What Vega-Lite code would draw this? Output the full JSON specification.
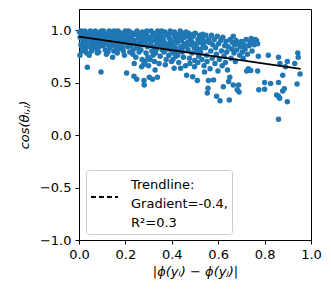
{
  "$schema": "https://vega.github.io/schema/vega-lite/v6.json",
  "width": 232,
  "height": 231,
  "autosize": {"type": "none"},
  "padding": {"left": 79, "top": 9, "right": 20, "bottom": 59},
  "background": "white",
  "config": {
    "view": {"stroke": "black", "strokeWidth": 1},
    "font": "DejaVu Sans",
    "axis": {"labelFont": "DejaVu Sans", "labelFontSize": 13, "labelColor": "black", "labelFlush": false, "titleFont": "DejaVu Sans", "titleFontSize": 13, "titleFontWeight": "normal", "titleColor": "black", "domainColor": "black", "tickColor": "black", "tickSize": 4, "labelPadding": 4, "grid": false},
    "legend": {"labelFont": "DejaVu Sans", "labelFontSize": 13, "labelColor": "black"},
    "style": {"guide-label": {"lineHeight": 19}}
  },
  "datasets": {
    "pts": [
{"x":0.002,"y":0.98},{"x":0.005,"y":0.93},{"x":0.008,"y":0.86},{"x":0.011,"y":0.96},{"x":0.014,"y":0.80},{"x":0.017,"y":0.90},{"x":0.004,"y":0.76},{"x":0.009,"y":0.99},{"x":0.013,"y":0.84},{"x":0.019,"y":0.94},
{"x":0.021,"y":0.97},{"x":0.024,"y":0.88},{"x":0.027,"y":0.82},{"x":0.03,"y":0.95},{"x":0.033,"y":0.78},{"x":0.036,"y":0.645},{"x":0.038,"y":0.91},{"x":0.025,"y":0.99},{"x":0.032,"y":0.86},{"x":0.039,"y":0.97},
{"x":0.042,"y":0.93},{"x":0.045,"y":0.84},{"x":0.048,"y":0.99},{"x":0.051,"y":0.89},{"x":0.054,"y":0.80},{"x":0.057,"y":0.96},{"x":0.044,"y":0.76},{"x":0.05,"y":0.92},{"x":0.055,"y":0.87},{"x":0.059,"y":0.98},
{"x":0.061,"y":0.95},{"x":0.064,"y":0.83},{"x":0.067,"y":0.90},{"x":0.07,"y":0.99},{"x":0.073,"y":0.86},{"x":0.076,"y":0.93},{"x":0.079,"y":0.78},{"x":0.066,"y":0.97},{"x":0.072,"y":0.88},{"x":0.078,"y":0.81},
{"x":0.081,"y":0.96},{"x":0.084,"y":0.91},{"x":0.087,"y":0.84},{"x":0.09,"y":0.98},{"x":0.095,"y":0.6},{"x":0.096,"y":0.89},{"x":0.099,"y":0.94},{"x":0.085,"y":0.79},{"x":0.091,"y":0.87},{"x":0.097,"y":0.99},
{"x":0.101,"y":0.92},{"x":0.104,"y":0.85},{"x":0.107,"y":0.97},{"x":0.11,"y":0.88},{"x":0.113,"y":0.81},{"x":0.116,"y":0.95},{"x":0.119,"y":0.90},{"x":0.106,"y":0.99},{"x":0.112,"y":0.93},{"x":0.118,"y":0.77},
{"x":0.121,"y":0.96},{"x":0.124,"y":0.86},{"x":0.127,"y":0.91},{"x":0.13,"y":0.99},{"x":0.133,"y":0.83},{"x":0.136,"y":0.94},{"x":0.139,"y":0.88},{"x":0.125,"y":0.79},{"x":0.131,"y":0.97},{"x":0.138,"y":0.85},
{"x":0.141,"y":0.92},{"x":0.144,"y":0.98},{"x":0.147,"y":0.87},{"x":0.15,"y":0.80},{"x":0.153,"y":0.95},{"x":0.156,"y":0.90},{"x":0.159,"y":0.84},{"x":0.145,"y":0.74},{"x":0.151,"y":0.99},{"x":0.158,"y":0.96},
{"x":0.161,"y":0.88},{"x":0.164,"y":0.93},{"x":0.167,"y":0.99},{"x":0.17,"y":0.82},{"x":0.173,"y":0.96},{"x":0.176,"y":0.86},{"x":0.179,"y":0.91},{"x":0.165,"y":0.78},{"x":0.172,"y":0.98},{"x":0.178,"y":0.94},
{"x":0.181,"y":0.97},{"x":0.184,"y":0.89},{"x":0.187,"y":0.83},{"x":0.19,"y":0.95},{"x":0.193,"y":0.92},{"x":0.196,"y":0.76},{"x":0.199,"y":0.99},{"x":0.185,"y":0.86},{"x":0.191,"y":0.80},{"x":0.198,"y":0.93},
{"x":0.201,"y":0.96},{"x":0.204,"y":0.88},{"x":0.205,"y":0.59},{"x":0.207,"y":0.94},{"x":0.21,"y":0.84},{"x":0.213,"y":0.99},{"x":0.216,"y":0.90},{"x":0.219,"y":0.79},{"x":0.206,"y":0.97},{"x":0.212,"y":0.86},{"x":0.218,"y":0.92},
{"x":0.221,"y":0.98},{"x":0.224,"y":0.85},{"x":0.227,"y":0.91},{"x":0.23,"y":0.95},{"x":0.233,"y":0.81},{"x":0.236,"y":0.88},{"x":0.237,"y":0.56},{"x":0.239,"y":0.97},{"x":0.225,"y":0.93},{"x":0.232,"y":0.77},{"x":0.238,"y":0.68},
{"x":0.241,"y":0.90},{"x":0.244,"y":0.96},{"x":0.247,"y":0.83},{"x":0.249,"y":0.53},{"x":0.25,"y":0.99},{"x":0.253,"y":0.87},{"x":0.256,"y":0.93},{"x":0.259,"y":0.79},{"x":0.245,"y":0.74},{"x":0.252,"y":0.97},{"x":0.258,"y":0.85},
{"x":0.261,"y":0.94},{"x":0.264,"y":0.89},{"x":0.267,"y":0.81},{"x":0.27,"y":0.65},{"x":0.273,"y":0.98},{"x":0.276,"y":0.86},{"x":0.279,"y":0.92},{"x":0.265,"y":0.96},{"x":0.272,"y":0.72},{"x":0.278,"y":0.67},{"x":0.28,"y":0.52},{"x":0.281,"y":0.476},
{"x":0.283,"y":0.95},{"x":0.286,"y":0.88},{"x":0.289,"y":0.78},{"x":0.292,"y":0.99},{"x":0.295,"y":0.84},{"x":0.298,"y":0.91},{"x":0.285,"y":0.70},{"x":0.291,"y":0.97},{"x":0.297,"y":0.74},{"x":0.3,"y":0.66},
{"x":0.303,"y":0.55},{"x":0.305,"y":0.93},{"x":0.308,"y":0.86},{"x":0.311,"y":0.99},{"x":0.314,"y":0.80},{"x":0.317,"y":0.53},{"x":0.318,"y":0.95},{"x":0.306,"y":0.72},{"x":0.312,"y":0.89},{"x":0.319,"y":0.76},
{"x":0.321,"y":0.97},{"x":0.324,"y":0.84},{"x":0.327,"y":0.91},{"x":0.328,"y":0.62},{"x":0.33,"y":0.78},{"x":0.333,"y":0.94},{"x":0.336,"y":0.88},{"x":0.338,"y":0.55},{"x":0.339,"y":0.99},{"x":0.325,"y":0.70},{"x":0.335,"y":0.82},
{"x":0.341,"y":0.92},{"x":0.344,"y":0.86},{"x":0.347,"y":0.97},{"x":0.35,"y":0.75},{"x":0.353,"y":0.90},{"x":0.356,"y":0.99},{"x":0.359,"y":0.81},{"x":0.345,"y":0.68},{"x":0.352,"y":0.95},{"x":0.358,"y":0.84},
{"x":0.361,"y":0.93},{"x":0.364,"y":0.88},{"x":0.367,"y":0.79},{"x":0.37,"y":0.98},{"x":0.373,"y":0.85},{"x":0.376,"y":0.72},{"x":0.379,"y":0.95},{"x":0.365,"y":0.90},{"x":0.372,"y":0.67},{"x":0.378,"y":0.82},
{"x":0.381,"y":0.96},{"x":0.384,"y":0.87},{"x":0.387,"y":0.76},{"x":0.39,"y":0.92},{"x":0.393,"y":0.99},{"x":0.396,"y":0.81},{"x":0.399,"y":0.70},{"x":0.385,"y":0.94},{"x":0.392,"y":0.84},{"x":0.398,"y":0.89},
{"x":0.401,"y":0.97},{"x":0.404,"y":0.86},{"x":0.407,"y":0.78},{"x":0.41,"y":0.635},{"x":0.413,"y":0.93},{"x":0.416,"y":0.83},{"x":0.419,"y":0.90},{"x":0.405,"y":0.72},{"x":0.411,"y":0.98},{"x":0.418,"y":0.75},
{"x":0.421,"y":0.95},{"x":0.424,"y":0.88},{"x":0.427,"y":0.80},{"x":0.43,"y":0.69},{"x":0.433,"y":0.92},{"x":0.436,"y":0.99},{"x":0.439,"y":0.84},{"x":0.425,"y":0.76},{"x":0.432,"y":0.96},{"x":0.438,"y":0.635},
{"x":0.441,"y":0.90},{"x":0.444,"y":0.82},{"x":0.447,"y":0.97},{"x":0.45,"y":0.74},{"x":0.453,"y":0.87},{"x":0.456,"y":0.93},{"x":0.459,"y":0.66},{"x":0.445,"y":0.79},{"x":0.452,"y":0.95},{"x":0.458,"y":0.85},
{"x":0.461,"y":0.98},{"x":0.464,"y":0.57},{"x":0.467,"y":0.88},{"x":0.47,"y":0.81},{"x":0.473,"y":0.94},{"x":0.476,"y":0.73},{"x":0.479,"y":0.90},{"x":0.465,"y":0.84},{"x":0.472,"y":0.97},{"x":0.478,"y":0.68},
{"x":0.481,"y":0.92},{"x":0.484,"y":0.86},{"x":0.487,"y":0.78},{"x":0.49,"y":0.555},{"x":0.493,"y":0.96},{"x":0.496,"y":0.83},{"x":0.499,"y":0.71},{"x":0.485,"y":0.89},{"x":0.492,"y":0.94},{"x":0.498,"y":0.65},
{"x":0.501,"y":0.97},{"x":0.504,"y":0.87},{"x":0.507,"y":0.80},{"x":0.51,"y":0.52},{"x":0.513,"y":0.91},{"x":0.516,"y":0.75},{"x":0.519,"y":0.93},{"x":0.505,"y":0.84},{"x":0.512,"y":0.69},{"x":0.518,"y":0.88},
{"x":0.521,"y":0.95},{"x":0.524,"y":0.82},{"x":0.527,"y":0.90},{"x":0.53,"y":0.72},{"x":0.533,"y":0.96},{"x":0.536,"y":0.86},{"x":0.539,"y":0.66},{"x":0.525,"y":0.78},{"x":0.532,"y":0.92},{"x":0.538,"y":0.84},
{"x":0.541,"y":0.6},{"x":0.544,"y":0.89},{"x":0.547,"y":0.95},{"x":0.55,"y":0.76},{"x":0.553,"y":0.40},{"x":0.556,"y":0.445},{"x":0.558,"y":0.52},{"x":0.545,"y":0.83},{"x":0.552,"y":0.70},{"x":0.559,"y":0.91},
{"x":0.562,"y":0.88},{"x":0.565,"y":0.63},{"x":0.568,"y":0.80},{"x":0.571,"y":0.95},{"x":0.574,"y":0.73},{"x":0.577,"y":0.86},{"x":0.58,"y":0.525},{"x":0.583,"y":0.91},{"x":0.586,"y":0.68},{"x":0.589,"y":0.83},
{"x":0.592,"y":0.77},{"x":0.593,"y":0.37},{"x":0.596,"y":0.94},{"x":0.599,"y":0.61},{"x":0.602,"y":0.87},{"x":0.605,"y":0.72},{"x":0.608,"y":0.327},{"x":0.611,"y":0.90},{"x":0.614,"y":0.80},{"x":0.617,"y":0.66},
{"x":0.62,"y":0.93},{"x":0.622,"y":0.46},{"x":0.625,"y":0.75},{"x":0.628,"y":0.85},{"x":0.631,"y":0.69},{"x":0.634,"y":0.89},{"x":0.637,"y":0.79},{"x":0.64,"y":0.62},{"x":0.643,"y":0.84},{"x":0.645,"y":0.51},
{"x":0.648,"y":0.333},{"x":0.65,"y":0.55},{"x":0.652,"y":0.91},{"x":0.655,"y":0.73},{"x":0.658,"y":0.82},{"x":0.661,"y":0.88},{"x":0.665,"y":0.94},{"x":0.665,"y":0.476},{"x":0.668,"y":0.78},{"x":0.671,"y":0.86},
{"x":0.674,"y":0.70},{"x":0.677,"y":0.90},{"x":0.68,"y":0.81},{"x":0.682,"y":0.43},{"x":0.685,"y":0.87},{"x":0.688,"y":0.476},{"x":0.69,"y":0.41},{"x":0.693,"y":0.76},{"x":0.696,"y":0.84},{"x":0.7,"y":0.89},
{"x":0.704,"y":0.79},{"x":0.708,"y":0.73},{"x":0.712,"y":0.86},{"x":0.716,"y":0.82},{"x":0.72,"y":0.91},{"x":0.723,"y":0.61},{"x":0.726,"y":0.77},{"x":0.73,"y":0.63},{"x":0.733,"y":0.85},{"x":0.737,"y":0.88},
{"x":0.74,"y":0.615},{"x":0.742,"y":0.92},{"x":0.746,"y":0.80},{"x":0.75,"y":0.89},{"x":0.755,"y":0.86},{"x":0.76,"y":0.91},{"x":0.765,"y":0.90},{"x":0.77,"y":0.87},{"x":0.77,"y":0.61},{"x":0.773,"y":0.75},{"x":0.775,"y":0.43},
{"x":0.80,"y":0.435},{"x":0.80,"y":0.50},{"x":0.816,"y":0.76},{"x":0.826,"y":0.49},{"x":0.852,"y":0.38},{"x":0.86,"y":0.50},{"x":0.86,"y":0.15},{"x":0.86,"y":0.37},{"x":0.865,"y":0.35},{"x":0.86,"y":0.74},
{"x":0.866,"y":0.68},{"x":0.878,"y":0.42},{"x":0.885,"y":0.44},{"x":0.878,"y":0.57},{"x":0.89,"y":0.65},{"x":0.898,"y":0.70},{"x":0.898,"y":0.317},{"x":0.93,"y":0.68},{"x":0.94,"y":0.486},{"x":0.953,"y":0.58},{"x":0.943,"y":0.78},{"x":0.945,"y":0.74}
    ],
    "trend": [
      {"x": 0.0, "y": 0.936, "series": "Trendline:|Gradient=-0.4,|R²=0.3"},
      {"x": 0.955, "y": 0.63, "series": "Trendline:|Gradient=-0.4,|R²=0.3"}
    ]
  },
  "layer": [
    {
      "data": {"name": "pts"},
      "mark": {"type": "circle", "size": 30, "opacity": 1, "color": "#1f77b4"},
      "encoding": {
        "x": {"field": "x", "type": "quantitative", "scale": {"domain": [0, 1], "nice": false, "padding": 0}, "axis": {"values": [0, 0.2, 0.4, 0.6, 0.8, 1.0], "format": ".1f", "title": "|ϕ(yᵢ) − ϕ(yⱼ)|", "titleFontStyle": "italic", "titlePadding": 4}},
        "y": {"field": "y", "type": "quantitative", "scale": {"domain": [-1, 1.2], "nice": false, "zero": false, "padding": 0}, "axis": {"values": [-1, -0.5, 0, 0.5, 1.0], "format": ".1f", "title": "cos(θᵢ,ⱼ)", "titleFontStyle": "italic", "titlePadding": 8}}
      }
    },
    {
      "data": {"name": "trend"},
      "mark": {"type": "line", "strokeWidth": 1.8},
      "encoding": {
        "x": {"field": "x", "type": "quantitative"},
        "y": {"field": "y", "type": "quantitative"},
        "stroke": {"field": "series", "type": "nominal", "scale": {"range": ["black"]}, "legend": {"title": null, "orient": "none", "legendX": 7, "legendY": 161, "symbolType": "stroke", "symbolDash": [5, 3], "symbolStrokeWidth": 1.8, "symbolSize": 729, "symbolStrokeColor": "black", "labelExpr": "split(datum.label, '|')", "labelOffset": 12, "fillColor": "white", "strokeColor": "#cccccc", "cornerRadius": 3, "padding": 4, "labelLimit": 200, "offset": 0, "encode": {"symbols": {"update": {"y": {"value": 23}}}, "labels": {"update": {"dy": {"value": -4}}}}}}
      }
    }
  ]
}
